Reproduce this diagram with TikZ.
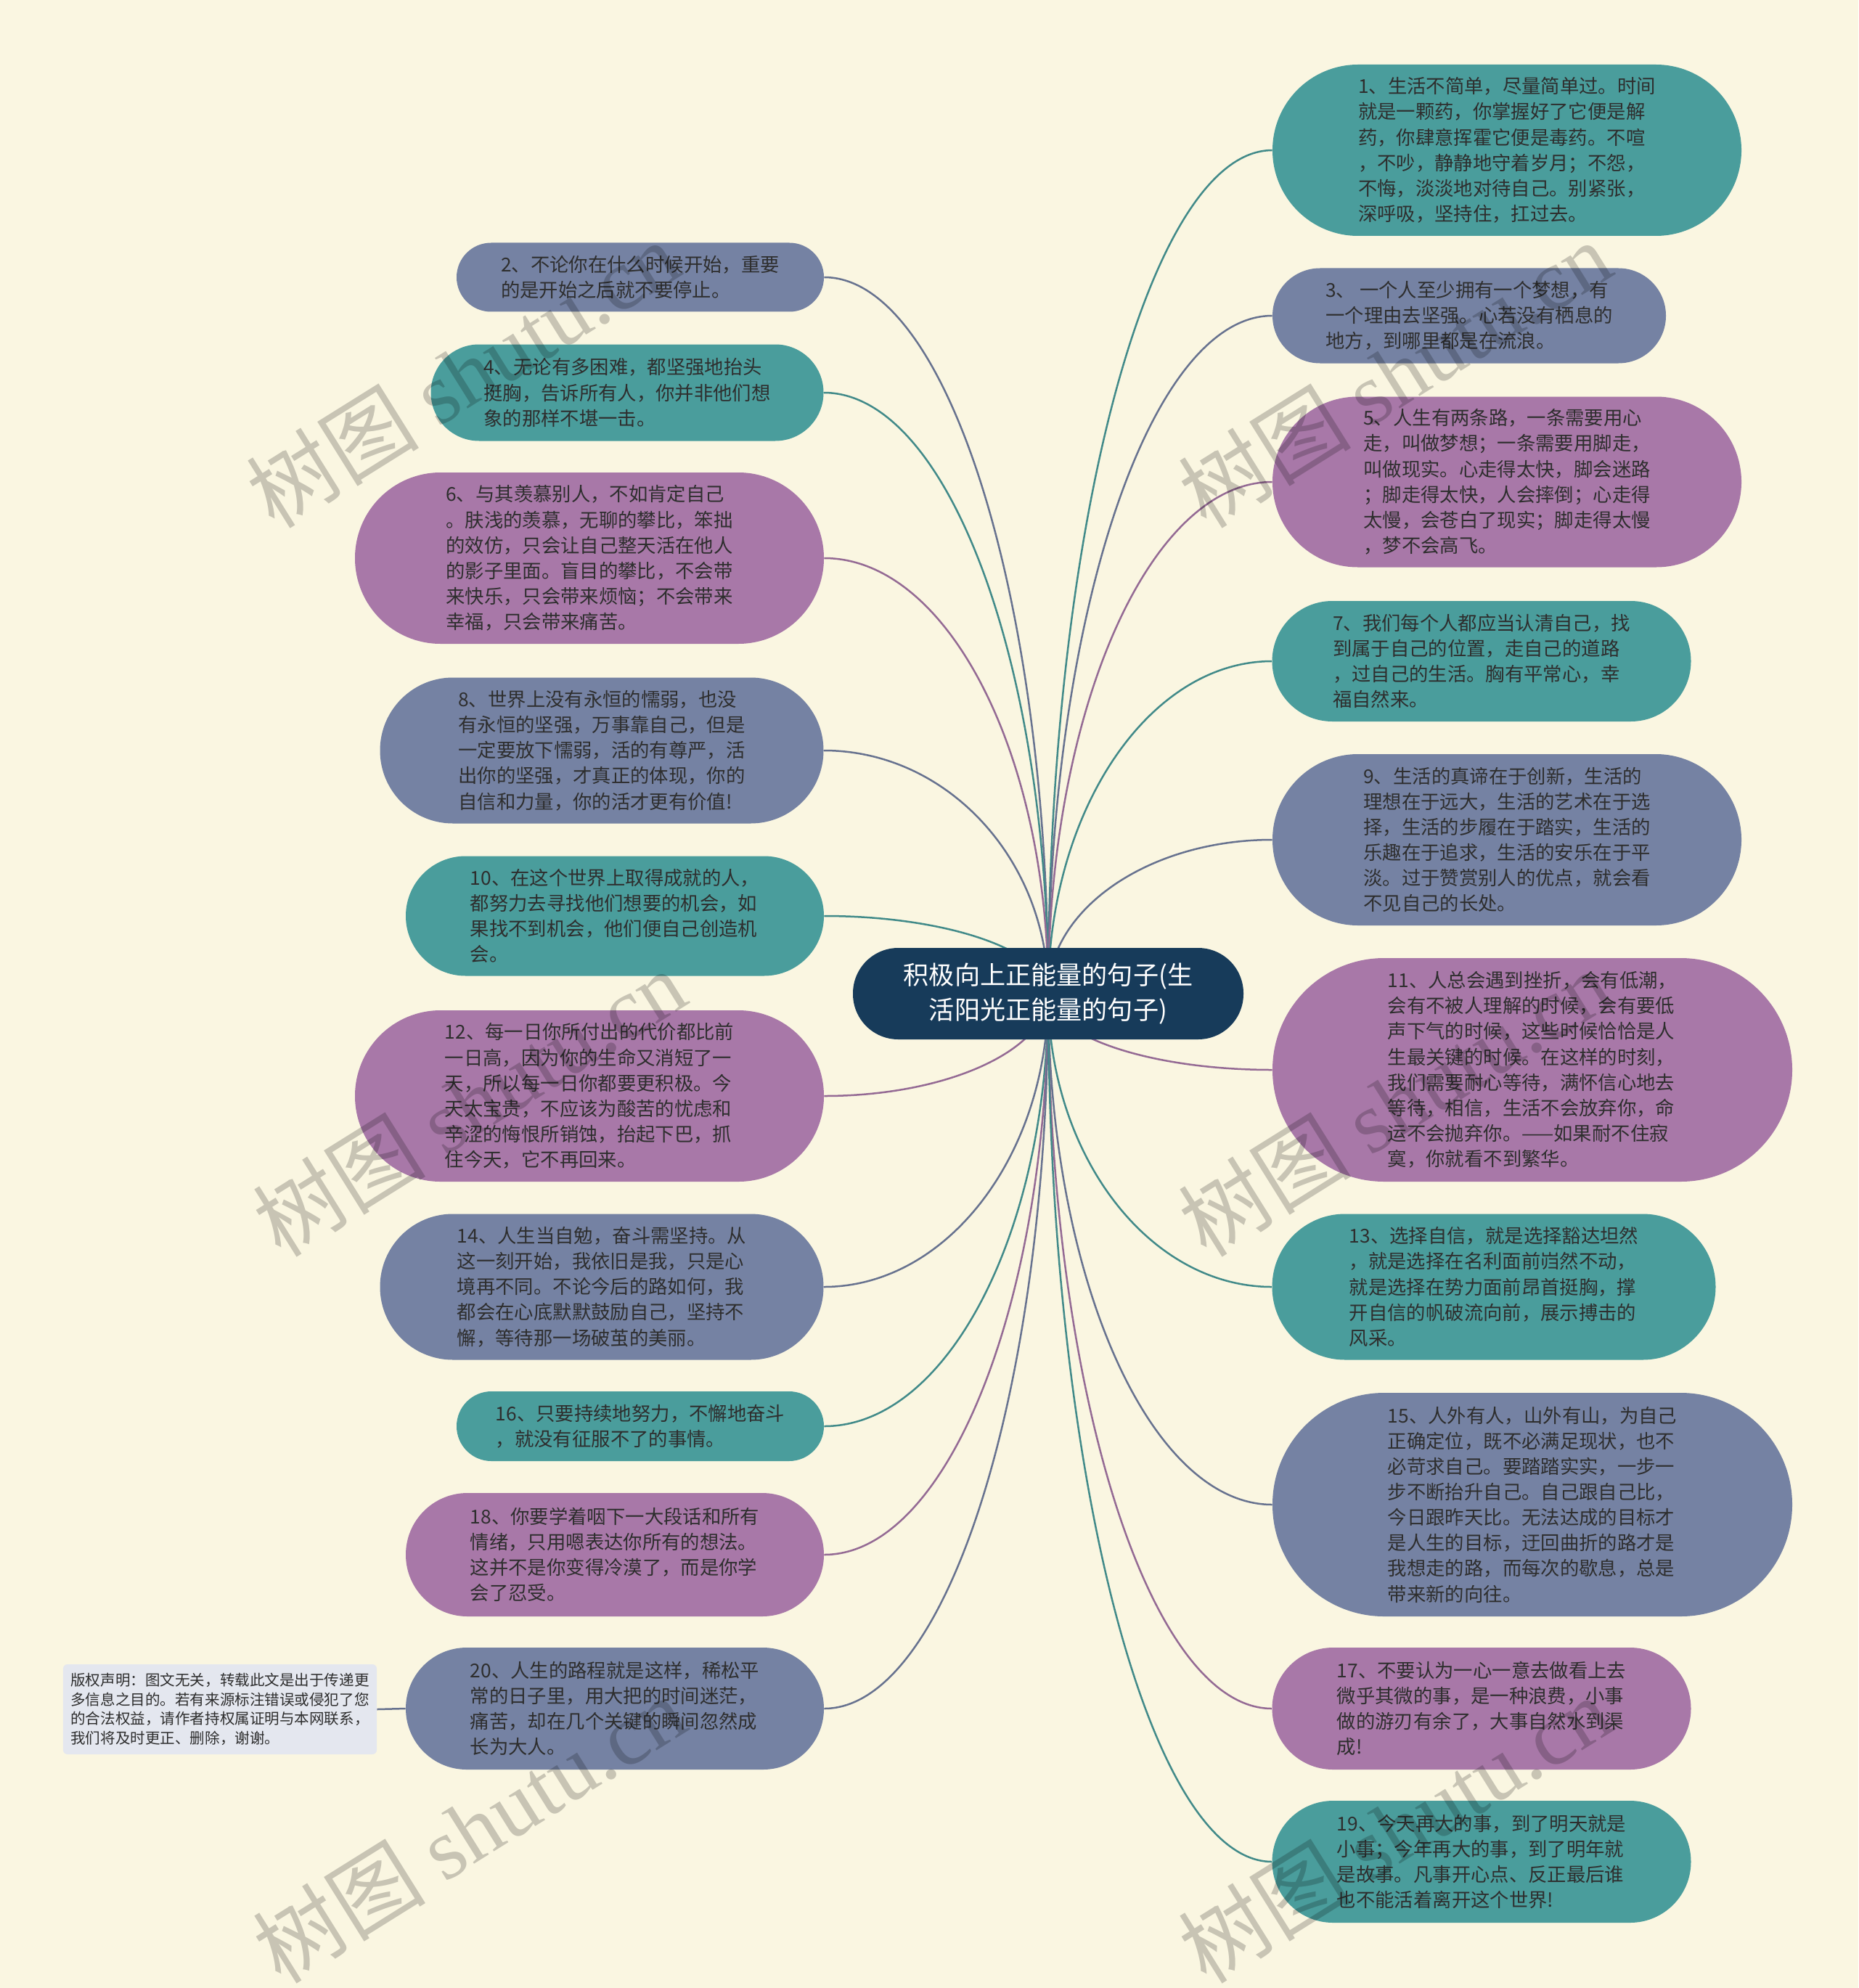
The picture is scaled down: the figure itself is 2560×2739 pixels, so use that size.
\documentclass[tikz,border=0pt]{standalone}
\usepackage{fontspec}
\setmainfont{Noto Sans CJK SC}
\newfontfamily\markfont{Liberation Serif}
\usepackage{xcolor}
\usepackage{tikz}
\usetikzlibrary{positioning,calc,backgrounds}
\definecolor{paper}{HTML}{FAF6E1}
\definecolor{ink}{HTML}{2E2E2E}
\definecolor{hubblue}{HTML}{173B5A}
\definecolor{tealc}{HTML}{4A9D9C}
\definecolor{slatec}{HTML}{7582A3}
\definecolor{plumc}{HTML}{A878A8}
\definecolor{notec}{HTML}{E4E7EF}
\tikzset{
  leaf/.style ={rectangle, inner sep=0pt, align=left, text=ink,
                font=\fontsize{15}{20}\selectfont},
  hub/.style  ={leaf, fill=hubblue, text=white, align=center,
                minimum width=107.6mm, minimum height=25.2mm, rounded corners=12.5mm,
                font=\fontsize{20}{27}\selectfont},
  note/.style ={leaf, fill=notec, minimum width=86.4mm, minimum height=24.8mm,
                rounded corners=1.2mm, font=\fontsize{11.7}{15.2}\selectfont},
  % one branch from the centre, leaving vertically and arriving level
  link/.style ={line width=0.5mm},
  wmark/.style={rotate=32, text=black, text opacity=0.2,
                font=\fontsize{68}{68}\selectfont},
}
\newcommand{\branch}[3]{%
  \draw[link,draw=#3!88!black] (hub.center)
    .. controls ($(hub.center)!0.55!(hub.center |- #1.#2)$)
       and ($(#1.#2)!0.55!(hub.center |- #1.#2)$) .. (#1.#2);}

\begin{document}
\begin{tikzpicture}[x=0.2mm,y=-0.2mm]
\useasboundingbox (0,0) rectangle (2560,2739);
\begin{scope}[on background layer]
  \fill[paper] (0,0) rectangle (2560,2739);
\end{scope}
\node[hub] (hub) at (1444,1369) {积极向上正能量的句子(生\\活阳光正能量的句子)};
% left side
\foreach \n/\x/\y/\w/\h/\c/\txt in {%
  n2/882/382/506/95/slatec/{2、不论你在什么时候开始，重要\\的是开始之后就不要停止。},
  n4/864/541/541/133/tealc/{4、无论有多困难，都坚强地抬头\\挺胸，告诉所有人，你并非他们想\\象的那样不堪一击。},
  n6/812/769/646/236/plumc/{6、与其羡慕别人，不如肯定自己\\。肤浅的羡慕，无聊的攀比，笨拙\\的效仿，只会让自己整天活在他人\\的影子里面。盲目的攀比，不会带\\来快乐，只会带来烦恼；不会带来\\幸福，只会带来痛苦。},
  n8/829/1034/611/201/slatec/{8、世界上没有永恒的懦弱，也没\\有永恒的坚强，万事靠自己，但是\\一定要放下懦弱，活的有尊严，活\\出你的坚强，才真正的体现，你的\\自信和力量，你的活才更有价值!},
  n10/847/1262/576/165/tealc/{10、在这个世界上取得成就的人，\\都努力去寻找他们想要的机会，如\\果找不到机会，他们便自己创造机\\会。},
  n12/812/1510/646/236/plumc/{12、每一日你所付出的代价都比前\\一日高，因为你的生命又消短了一\\天，所以每一日你都要更积极。今\\天太宝贵，不应该为酸苦的忧虑和\\辛涩的悔恨所销蚀，抬起下巴，抓\\住今天，它不再回来。},
  n14/829/1773/611/201/slatec/{14、人生当自勉，奋斗需坚持。从\\这一刻开始，我依旧是我，只是心\\境再不同。不论今后的路如何，我\\都会在心底默默鼓励自己，坚持不\\懈，等待那一场破茧的美丽。},
  n16/882/1965/506/96/tealc/{16、只要持续地努力，不懈地奋斗\\，就没有征服不了的事情。},
  n18/847/2142/576/170/plumc/{18、你要学着咽下一大段话和所有\\情绪，只用嗯表达你所有的想法。\\这并不是你变得冷漠了，而是你学\\会了忍受。},
  n20/847/2354/576/168/slatec/{20、人生的路程就是这样，稀松平\\常的日子里，用大把的时间迷茫，\\痛苦，却在几个关键的瞬间忽然成\\长为大人。}}
  {\pgfmathsetmacro\ww{\w*0.2}\pgfmathsetmacro\hh{\h*0.2}\pgfmathsetmacro\rr{\h*0.0999}
   \node[leaf,fill=\c,minimum width=\ww mm,minimum height=\hh mm,rounded corners=\rr mm]
     (\n) at (\x,\y) {\txt};
   \begin{scope}[on background layer]\branch{\n}{east}{\c}\end{scope}}
% right side
\foreach \n/\x/\y/\w/\h/\c/\txt in {%
  n1/2076/207/646/236/tealc/{1、生活不简单，尽量简单过。时间\\就是一颗药，你掌握好了它便是解\\药，你肆意挥霍它便是毒药。不喧\\，不吵，静静地守着岁月；不怨，\\不悔，淡淡地对待自己。别紧张，\\深呼吸，坚持住，扛过去。},
  n3/2024/435/542/131/slatec/{3、 一个人至少拥有一个梦想，有\\一个理由去坚强。心若没有栖息的\\地方，到哪里都是在流浪。},
  n5/2076/664/646/235/plumc/{5、人生有两条路，一条需要用心\\走，叫做梦想；一条需要用脚走，\\叫做现实。心走得太快，脚会迷路\\；脚走得太快，人会摔倒；心走得\\太慢，会苍白了现实；脚走得太慢\\，梦不会高飞。},
  n7/2041/911/577/166/tealc/{7、我们每个人都应当认清自己，找\\到属于自己的位置，走自己的道路\\，过自己的生活。胸有平常心，幸\\福自然来。},
  n9/2076/1157/646/236/slatec/{9、生活的真谛在于创新，生活的\\理想在于远大，生活的艺术在于选\\择，生活的步履在于踏实，生活的\\乐趣在于追求，生活的安乐在于平\\淡。过于赞赏别人的优点，就会看\\不见自己的长处。},
  n11/2111/1474/716/308/plumc/{11、人总会遇到挫折，会有低潮，\\会有不被人理解的时候，会有要低\\声下气的时候，这些时候恰恰是人\\生最关键的时候。在这样的时刻，\\我们需要耐心等待，满怀信心地去\\等待，相信，生活不会放弃你，命\\运不会抛弃你。——如果耐不住寂\\寞，你就看不到繁华。},
  n13/2058/1773/611/201/tealc/{13、选择自信，就是选择豁达坦然\\，就是选择在名利面前岿然不动，\\就是选择在势力面前昂首挺胸，撑\\开自信的帆破流向前，展示搏击的\\风采。},
  n15/2111/2073/716/308/slatec/{15、人外有人，山外有山，为自己\\正确定位，既不必满足现状，也不\\必苛求自己。要踏踏实实，一步一\\步不断抬升自己。自己跟自己比，\\今日跟昨天比。无法达成的目标才\\是人生的目标，迂回曲折的路才是\\我想走的路，而每次的歇息，总是\\带来新的向往。},
  n17/2041/2354/577/168/plumc/{17、不要认为一心一意去做看上去\\微乎其微的事，是一种浪费，小事\\做的游刃有余了，大事自然水到渠\\成!},
  n19/2041/2565/577/168/tealc/{19、今天再大的事，到了明天就是\\小事；今年再大的事，到了明年就\\是故事。凡事开心点、反正最后谁\\也不能活着离开这个世界!}}
  {\pgfmathsetmacro\ww{\w*0.2}\pgfmathsetmacro\hh{\h*0.2}\pgfmathsetmacro\rr{\h*0.0999}
   \node[leaf,fill=\c,minimum width=\ww mm,minimum height=\hh mm,rounded corners=\rr mm]
     (\n) at (\x,\y) {\txt};
   \begin{scope}[on background layer]\branch{\n}{west}{\c}\end{scope}}
\node[note] (note) at (303,2355) {版权声明：图文无关，转载此文是出于传递更\\多信息之目的。若有来源标注错误或侵犯了您\\的合法权益，请作者持权属证明与本网联系，\\我们将及时更正、删除，谢谢。};
\begin{scope}[on background layer]
  \draw[link,draw=slatec!88!black] (note.east) -- (n20.west);
\end{scope}
\foreach \x/\y [count=\i] in {637/515, 1921/515, 646/1519, 1921/1519, 646/2520, 1921/2520}
  {\node[wmark] (wm\i) at (\x,\y) {树图 {\markfont shutu.cn}};}
\end{tikzpicture}
\end{document}
